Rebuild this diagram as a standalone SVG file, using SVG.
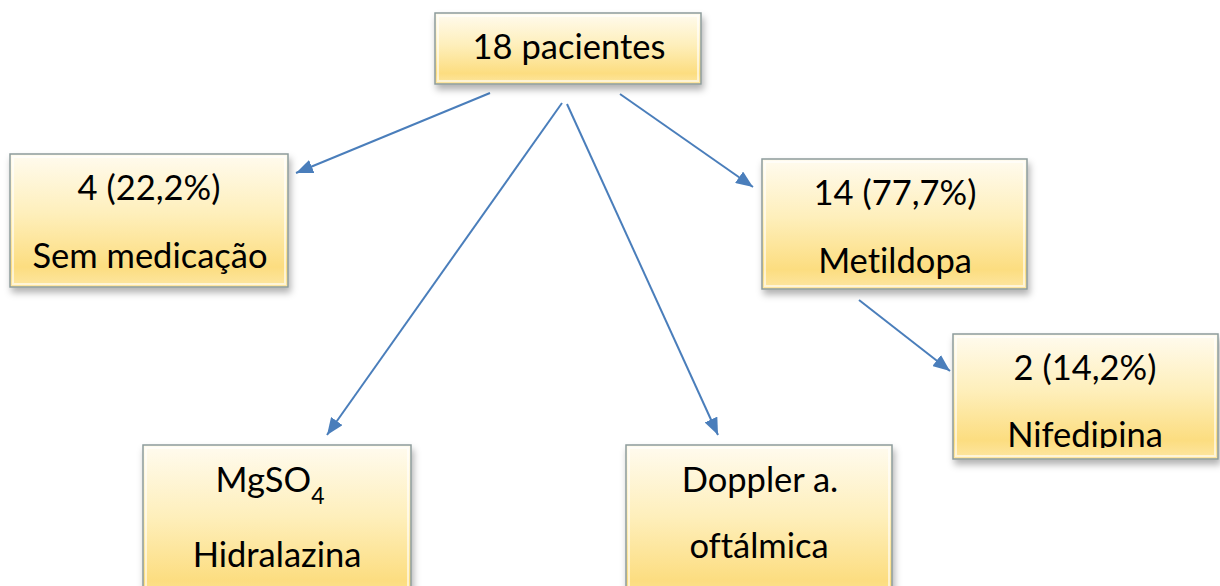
<svg xmlns="http://www.w3.org/2000/svg" width="1220" height="586" viewBox="0 0 1220 586">
<defs>
<linearGradient id="g" x1="0" y1="0" x2="0" y2="1">
<stop offset="0" stop-color="#fffbef"/>
<stop offset="0.45" stop-color="#feefbb"/>
<stop offset="0.85" stop-color="#fcdd80"/>
<stop offset="1" stop-color="#fde6a2"/>
</linearGradient>
<filter id="sh" x="-10%" y="-10%" width="125%" height="130%">
<feDropShadow dx="2" dy="5" stdDeviation="3.5" flood-color="#000" flood-opacity="0.3"/>
</filter>
<marker id="ah" markerUnits="userSpaceOnUse" markerWidth="18" markerHeight="14" refX="17" refY="7" orient="auto">
<path d="M0,0 L17,7 L0,14 Z" fill="#4a7ebb"/>
</marker>
<clipPath id="cn"><rect x="953" y="334" width="265" height="114"/></clipPath>
</defs>
<style>
.box{fill:url(#g);stroke:#8d9c9c;stroke-width:1.5;filter:url(#sh)}
.inner{fill:none;stroke:#ffffff;stroke-opacity:0.6;stroke-width:2}
.t{font-family:Lato,"Open Sans","Liberation Sans",sans-serif;font-size:34.5px;fill:#000;text-anchor:middle;font-variant-ligatures:none;font-feature-settings:"liga" 0,"clig" 0}
.s{font-family:Lato,"Open Sans","Liberation Sans",sans-serif;font-size:23px;fill:#000}
.c{stroke:#4a7ebb;stroke-width:2;fill:none;marker-end:url(#ah)}
</style>
<g id="connectors">
<line class="c" x1="490" y1="93" x2="296" y2="173"/>
<line class="c" x1="562" y1="103" x2="327" y2="435"/>
<line class="c" x1="567" y1="104" x2="718" y2="435"/>
<line class="c" x1="620" y1="94" x2="753" y2="187"/>
<line class="c" x1="859" y1="300" x2="950" y2="371"/>
</g>
<g id="n-root">
<rect class="box" x="435" y="13" width="266" height="71"/>
<rect class="inner" x="438" y="16" width="260" height="65"/>
<text class="t" x="569" y="59">18 pacientes</text>
</g>
<g id="n-sem">
<rect class="box" x="10" y="154" width="278" height="133"/>
<rect class="inner" x="13" y="157" width="272" height="127"/>
<text class="t" x="149" y="200">4 (22,2%)</text>
<text class="t" x="150" y="268">Sem medicação</text>
</g>
<g id="n-metildopa">
<rect class="box" x="762" y="159" width="265" height="130"/>
<rect class="inner" x="765" y="162" width="259" height="124"/>
<text class="t" x="895" y="205">14 (77,7%)</text>
<text class="t" x="895" y="273">Metildopa</text>
</g>
<g id="n-nifedipina">
<rect class="box" x="953" y="334" width="265" height="125"/>
<rect class="inner" x="956" y="337" width="259" height="119"/>
<text class="t" x="1085" y="380">2 (14,2%)</text>
<text class="t" x="1085" y="447" clip-path="url(#cn)">Nifedipina</text>
</g>
<g id="n-hidralazina">
<rect class="box" x="143" y="445" width="268" height="160"/>
<rect class="inner" x="146" y="448" width="262" height="154"/>
<text class="t" x="270" y="492">MgSO<tspan class="s" dy="12">4</tspan></text>
<text class="t" x="277" y="567">Hidralazina</text>
</g>
<g id="n-doppler">
<rect class="box" x="626" y="445" width="266" height="160"/>
<rect class="inner" x="629" y="448" width="260" height="154"/>
<text class="t" x="760" y="492">Doppler a.</text>
<text class="t" x="759" y="558">oftálmica</text>
</g>
</svg>
